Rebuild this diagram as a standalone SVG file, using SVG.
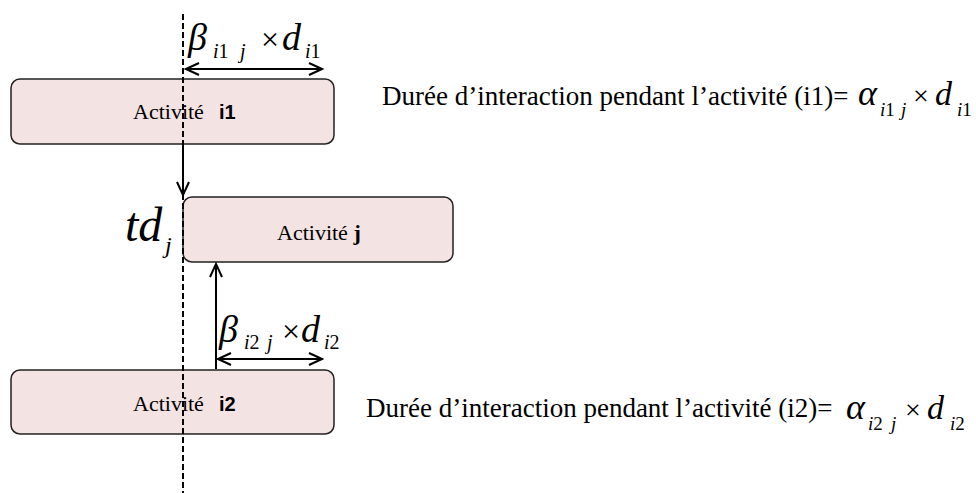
<svg xmlns="http://www.w3.org/2000/svg" width="976" height="493" viewBox="0 0 976 493">
<style>
.box{fill:#F3E3E3;stroke:#222;stroke-width:1.5}
.t{font-family:"Liberation Serif","Times New Roman",serif;fill:#000}
.b{font-family:"Liberation Sans",Arial,sans-serif;font-weight:bold;fill:#000}
.it{font-style:italic}
.ln{stroke:#000;stroke-width:2;fill:none}
</style>
<defs>
<marker id="ah" markerUnits="userSpaceOnUse" markerWidth="16" markerHeight="16" refX="14" refY="7" orient="auto-start-reverse" viewBox="0 0 16 14">
<path d="M1,1 L14,7 L1,13" fill="none" stroke="#000" stroke-width="2"/>
</marker>
</defs>
<rect width="976" height="493" fill="#fff"/>
<g id="node-i1">
<rect class="box" x="11" y="79" width="323" height="65" rx="9"/>
<text class="t" x="133" y="119" font-size="22">Activité</text>
<text class="b" x="219" y="119" font-size="20">i1</text>
</g>
<g id="node-j">
<rect class="box" x="183" y="197" width="270" height="65" rx="9"/>
<text class="t" x="277" y="240" font-size="22">Activité <tspan font-weight="bold">j</tspan></text>
</g>
<g id="node-i2">
<rect class="box" x="11" y="370" width="323" height="64" rx="9"/>
<text class="t" x="133" y="411" font-size="22">Activité</text>
<text class="b" x="219" y="411" font-size="20">i2</text>
</g>
<g id="connectors">
<line class="ln" x1="183" y1="14" x2="183" y2="493" stroke-dasharray="6 3"/>
<line class="ln" x1="183" y1="144" x2="183" y2="195" marker-end="url(#ah)"/>
<line class="ln" x1="216" y1="369" x2="216" y2="264" marker-end="url(#ah)"/>
<line class="ln" x1="186" y1="69" x2="322" y2="69" marker-start="url(#ah)" marker-end="url(#ah)"/>
<line class="ln" x1="218" y1="359" x2="322" y2="359" marker-start="url(#ah)" marker-end="url(#ah)"/>
</g>
<g id="label-beta1" class="t">
<text class="it" x="188" y="50" font-size="38">β</text>
<text x="213" y="58" font-size="20"><tspan class="it">i</tspan>1</text>
<text class="it" x="240" y="58" font-size="20">j</text>
<text x="261" y="50" font-size="32">×</text>
<text class="it" x="282" y="50" font-size="38">d</text>
<text x="305" y="58" font-size="20"><tspan class="it">i</tspan>1</text>
</g>
<g id="label-beta2" class="t">
<text class="it" x="219" y="342" font-size="38">β</text>
<text x="244" y="349" font-size="20"><tspan class="it">i</tspan>2</text>
<text class="it" x="267" y="349" font-size="20">j</text>
<text x="282" y="342" font-size="32">×</text>
<text class="it" x="301" y="342" font-size="38">d</text>
<text x="324" y="349" font-size="20"><tspan class="it">i</tspan>2</text>
</g>
<g id="label-td" class="t">
<text class="it" x="125" y="241" font-size="48">td</text>
<text class="it" x="165" y="253" font-size="24">j</text>
</g>
<g id="label-duree1" class="t">
<text x="382" y="105" font-size="27">Durée d’interaction pendant l’activité (i1)=</text>
<text class="it" x="858" y="105" font-size="36">α</text>
<text x="880" y="116" font-size="19"><tspan class="it">i</tspan>1</text>
<text class="it" x="901" y="116" font-size="19">j</text>
<text x="913" y="105" font-size="28">×</text>
<text class="it" x="935" y="105" font-size="34">d</text>
<text x="957" y="116" font-size="19"><tspan class="it">i</tspan>1</text>
</g>
<g id="label-duree2" class="t">
<text x="366" y="417" font-size="27">Durée d’interaction pendant l’activité (i2)=</text>
<text class="it" x="846" y="419" font-size="36">α</text>
<text x="868" y="430" font-size="19"><tspan class="it">i</tspan>2</text>
<text class="it" x="891" y="430" font-size="19">j</text>
<text x="905" y="419" font-size="28">×</text>
<text class="it" x="927" y="419" font-size="34">d</text>
<text x="950" y="430" font-size="19"><tspan class="it">i</tspan>2</text>
</g>
</svg>
